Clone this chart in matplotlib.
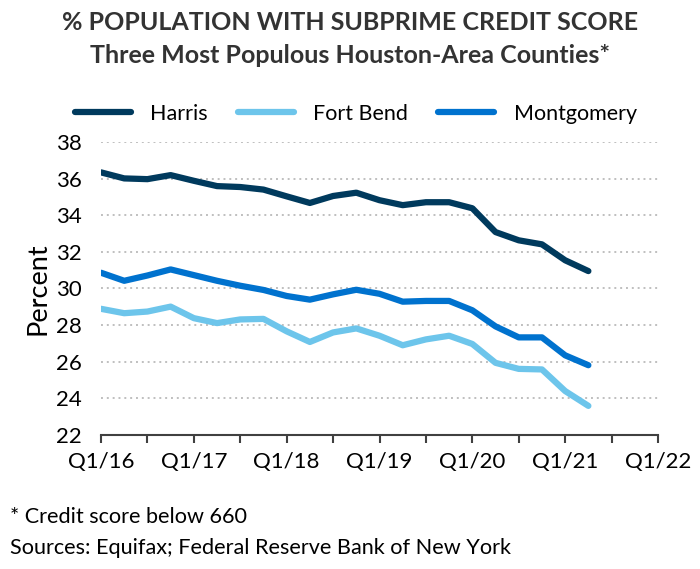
import numpy as np
import matplotlib
matplotlib.use('Agg')
from matplotlib import pyplot as plt

plt.rcParams['font.family'] = ['Lato', 'DejaVu Sans']

# Quarterly data, Q1/16 .. Q2/21
quarters = list(range(22))
harris = [36.34, 36.01, 35.97, 36.19, 35.88, 35.59, 35.54, 35.40, 35.03, 34.67, 35.05,
          35.23, 34.82, 34.55, 34.71, 34.71, 34.38, 33.08, 32.63, 32.41, 31.54, 30.95]
fort_bend = [28.89, 28.65, 28.74, 29.01, 28.38, 28.11, 28.31, 28.34, 27.66, 27.08, 27.60,
             27.82, 27.42, 26.90, 27.22, 27.42, 26.97, 25.94, 25.61, 25.58, 24.40, 23.59]
montgomery = [30.86, 30.42, 30.71, 31.04, 30.73, 30.42, 30.15, 29.92, 29.59, 29.39, 29.68,
              29.93, 29.71, 29.28, 29.32, 29.32, 28.81, 27.93, 27.33, 27.33, 26.35, 25.81]

tick_pos = [0, 4, 8, 12, 16, 20, 24]
tick_labels = ['Q1/16', 'Q1/17', 'Q1/18', 'Q1/19', 'Q1/20', 'Q1/21', 'Q1/22']

fig = plt.figure(figsize=(7, 5.69), dpi=100)
ax = fig.add_axes([0.1443, 0.2355, 0.7957, 0.515])

ax.plot(quarters, harris, color='#003A5D', lw=4.5, solid_capstyle='round', label='Harris')
ax.plot(quarters, fort_bend, color='#6DC5EB', lw=4.5, solid_capstyle='round', label='Fort Bend')
ax.plot(quarters, montgomery, color='#0072CE', lw=4.5, solid_capstyle='round', label='Montgomery')

ax.set_xlim(0, 24)
ax.set_ylim(22, 38)
ax.set_yticks(range(22, 39, 2))
ax.set_xticks(tick_pos)
ax.set_xticklabels(tick_labels)
ax.set_xticks([2, 6, 10, 14, 18, 22], minor=True)

for y in range(24, 39, 2):
    ax.axhline(y, color='#BFBFBF', lw=1.4, ls=(0, (1, 2)), zorder=0)

for s in ['top', 'right', 'left']:
    ax.spines[s].set_visible(False)
ax.spines['bottom'].set_color('#404040')
ax.spines['bottom'].set_linewidth(1.5)

ax.tick_params(axis='y', length=0, labelsize=16, pad=14, colors='#000000')
ax.tick_params(axis='x', which='both', direction='out', length=6, width=1.5,
               color='#404040', labelsize=16, pad=6)

ax.set_ylabel('Percent', fontsize=19.5, labelpad=4)

fig.legend(*ax.get_legend_handles_labels(), loc='center left',
           bbox_to_anchor=(0.107, 0.80), ncol=3, frameon=False,
           fontsize=15.5, handlelength=2.6, handletextpad=0.9, columnspacing=1.4,
           borderaxespad=0, borderpad=0)

fig.text(0.5, 0.961, '% POPULATION WITH SUBPRIME CREDIT SCORE', ha='center', va='center',
         fontsize=18, fontweight='bold', color='#333333')
fig.text(0.5, 0.903, 'Three Most Populous Houston-Area Counties*', ha='center', va='center',
         fontsize=18, fontweight='bold', color='#333333')

fig.text(0.014, 0.092, '* Credit score below 660', ha='left', va='center', fontsize=15.6)
fig.text(0.014, 0.037, 'Sources: Equifax; Federal Reserve Bank of New York', ha='left',
         va='center', fontsize=15.6)

fig.savefig('out.png', dpi=100)
